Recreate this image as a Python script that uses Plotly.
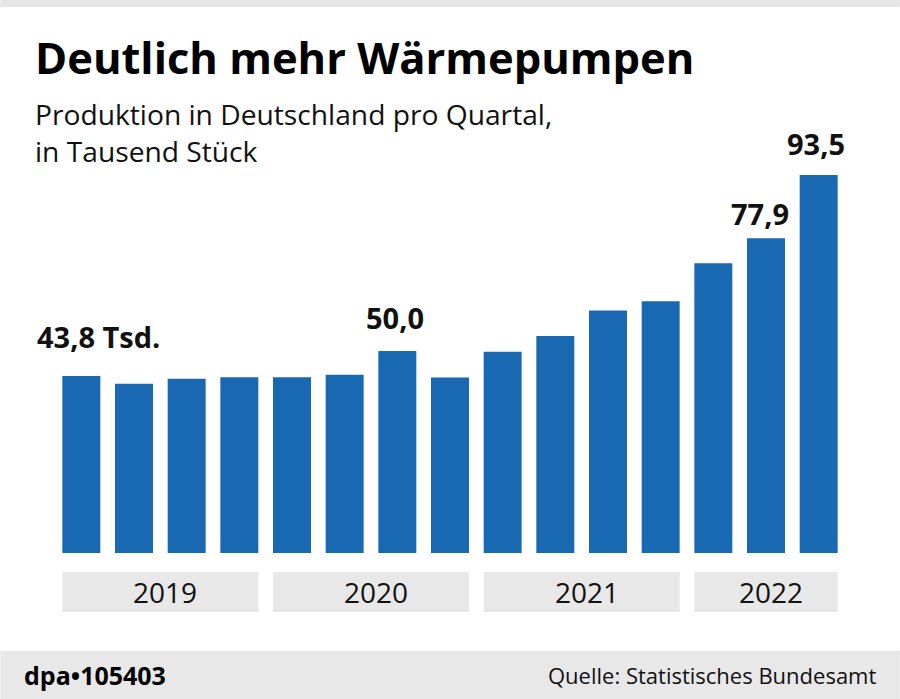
import plotly.graph_objects as go

# ---------------- data ----------------
quarters = ["2019 Q1", "2019 Q2", "2019 Q3", "2019 Q4",
            "2020 Q1", "2020 Q2", "2020 Q3", "2020 Q4",
            "2021 Q1", "2021 Q2", "2021 Q3", "2021 Q4",
            "2022 Q1", "2022 Q2", "2022 Q3"]
production = [43.8, 41.9, 43.1, 43.5,
              43.5, 44.1, 50.0, 43.4,
              49.8, 53.7, 60.0, 62.3,
              71.7, 77.9, 93.5]
years = ["2019", "2020", "2021", "2022"]
labels = {0: "43,8 Tsd.", 6: "50,0", 13: "77,9", 14: "93,5"}

title = "Deutlich mehr Wärmepumpen"
subtitle1 = "Produktion in Deutschland pro Quartal,"
subtitle2 = "in Tausend Stück"
credit = "dpa\u2022105403"
source = "Quelle: Statistisches Bundesamt"

# ---------------- layout constants (pixels) ----------------
W, H = 900, 699
PLOT_L, PLOT_R = 54.65, 845.15
PLOT_T, PLOT_B = 100, 612
BASE_PX = 553
PX_PER_UNIT = 4.042
BAR_COLOR = "#1868b2"
GRAY = "#e8e8e8"
FONT = "Open Sans"

ymin = -(PLOT_B - BASE_PX) / PX_PER_UNIT
ymax = (BASE_PX - PLOT_T) / PX_PER_UNIT
plot_h = PLOT_B - PLOT_T
plot_w = PLOT_R - PLOT_L


def py(p):  # pixel y -> paper
    return (PLOT_B - p) / plot_h


def px(p):  # pixel x -> paper
    return (p - PLOT_L) / plot_w


def ydata(p):  # pixel y -> data
    return (BASE_PX - p) / PX_PER_UNIT


fig = go.Figure()
fig.add_trace(go.Bar(
    x=quarters, y=production,
    marker=dict(color=BAR_COLOR, line=dict(width=0)),
    hoverinfo="x+y",
))

shapes = []
annotations = []

# top thin gray band and footer band
shapes.append(dict(type="rect", xref="paper", yref="paper",
                   x0=px(0), x1=px(W), y0=py(7), y1=py(0),
                   fillcolor="#e6e6e6", line=dict(width=0), layer="below"))
shapes.append(dict(type="rect", xref="paper", yref="paper",
                   x0=px(0), x1=px(W), y0=py(H), y1=py(651),
                   fillcolor=GRAY, line=dict(width=0), layer="below"))

# year boxes below bars
half = 0.3605
for i, yr in enumerate(years):
    idx = [k for k, q in enumerate(quarters) if q.startswith(yr)]
    x0, x1 = idx[0] - half, idx[-1] + half
    shapes.append(dict(type="rect", xref="x", yref="y",
                       x0=x0, x1=x1, y0=ydata(611), y1=ydata(572),
                       fillcolor=GRAY, line=dict(width=0), layer="below"))
    shapes.append(dict(type="line", xref="x", yref="y",
                       x0=x0, x1=x1, y0=ydata(611), y1=ydata(611),
                       line=dict(color="#d4d4d4", width=1), layer="below"))
    annotations.append(dict(x=(x0 + x1) / 2, y=ydata(592), xref="x", yref="y",
                            text=yr, showarrow=False, xanchor="center",
                            yanchor="middle", xshift=5,
                            font=dict(family=FONT, size=28, color="#111111")))

# value labels
label_style = {0: dict(xanchor="left", xshift=-46, yshift=39),
               6: dict(xanchor="center", xshift=-2, yshift=33),
               13: dict(xanchor="center", xshift=-6, yshift=25),
               14: dict(xanchor="center", xshift=-3, yshift=32)}
for i, txt in labels.items():
    st = label_style[i]
    annotations.append(dict(x=quarters[i], y=production[i], xref="x", yref="y",
                            text=txt, showarrow=False, yanchor="middle",
                            xanchor=st["xanchor"], xshift=st["xshift"],
                            yshift=st["yshift"],
                            font=dict(family=FONT, size=29, color="#111111",
                                      weight=700)))

# title & subtitle
annotations.append(dict(x=px(33), y=py(57), xref="paper", yref="paper",
                        text=title, showarrow=False, xanchor="left",
                        yanchor="middle",
                        font=dict(family=FONT, size=43.5, color="#000000",
                                  weight=700)))
annotations.append(dict(x=px(33), y=py(132.5), xref="paper", yref="paper",
                        text=subtitle1 + "<br>" + subtitle2,
                        showarrow=False, xanchor="left", yanchor="middle",
                        align="left",
                        font=dict(family=FONT, size=28.2, color="#111111")))

# footer
annotations.append(dict(x=px(22), y=py(675), xref="paper", yref="paper",
                        text=credit, showarrow=False, xanchor="left",
                        yanchor="middle",
                        font=dict(family=FONT, size=25, color="#000000",
                                  weight=700)))
annotations.append(dict(x=px(878), y=py(675), xref="paper", yref="paper",
                        text=source, showarrow=False, xanchor="right",
                        yanchor="middle",
                        font=dict(family=FONT, size=22, color="#111111")))

fig.update_layout(
    width=W, height=H,
    margin=dict(l=PLOT_L, r=W - PLOT_R, t=PLOT_T, b=H - PLOT_B, pad=0),
    paper_bgcolor="white", plot_bgcolor="white",
    showlegend=False,
    bargap=0.279,
    xaxis=dict(type="category", range=[-0.5, len(quarters) - 0.5],
               showticklabels=False, showgrid=False, zeroline=False,
               showline=False, ticks="", fixedrange=True),
    yaxis=dict(range=[ymin, ymax], showticklabels=False, showgrid=False,
               zeroline=False, showline=False, ticks="", fixedrange=True),
    shapes=shapes,
    annotations=annotations,
    font=dict(family=FONT),
)

fig.write_html("out.html", config={"displayModeBar": False},
               post_script="document.body.style.margin='0';"
                           "document.body.style.overflow='hidden';")
